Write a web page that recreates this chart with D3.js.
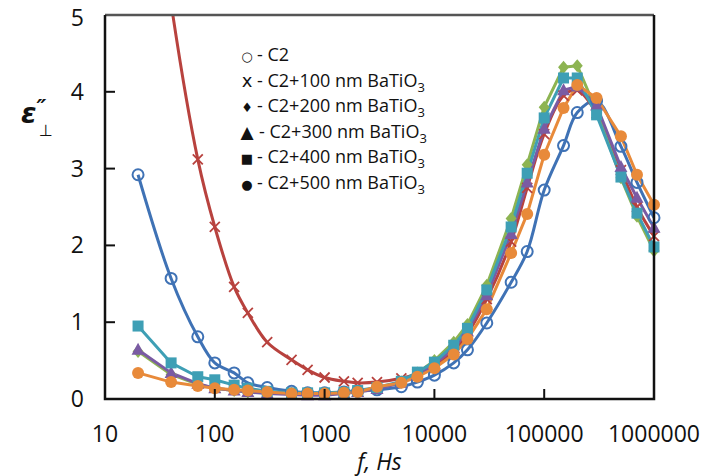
<!DOCTYPE html>
<html>
<head>
<meta charset="utf-8">
<script src="https://cdn.jsdelivr.net/npm/d3@7"></script>
<style>
  html, body { margin: 0; padding: 0; background: #fff; }
  svg { display: block; font-family: "Open Sans", "Liberation Sans", sans-serif; }
</style>
</head>
<body>
<svg id="chart" width="702" height="476"></svg>
<script>
// frequencies, Hz
const freq = [20, 40, 70, 100, 150, 200, 300, 500, 700, 1000, 1500, 2000, 3000, 5000, 7000,
  10000, 15000, 20000, 30000, 50000, 70000, 100000, 150000, 200000, 300000, 500000, 700000, 1000000];

const c2 = [2.92, 1.57, 0.81, 0.47, 0.34, 0.21, 0.15, 0.10, 0.08, 0.08, 0.09, 0.10, 0.12, 0.16, 0.22,
  0.31, 0.47, 0.64, 0.99, 1.52, 1.92, 2.72, 3.30, 3.73, 3.88, 3.29, 2.82, 2.36];
const bt100 = [8.5, 5.15, 3.12, 2.24, 1.46, 1.12, 0.74, 0.51, 0.38, 0.28, 0.23, 0.21, 0.22, 0.27, 0.33,
  0.43, 0.63, 0.85, 1.30, 2.05, 2.75, 3.45, 3.95, 4.02, 3.72, 2.98, 2.50, 2.12];
const bt200 = [0.62, 0.32, 0.19, 0.14, 0.11, 0.09, 0.08, 0.07, 0.07, 0.07, 0.08, 0.10, 0.14, 0.22, 0.34,
  0.50, 0.74, 0.97, 1.48, 2.35, 3.05, 3.80, 4.32, 4.34, 3.75, 2.88, 2.38, 1.93];
const bt300 = [0.64, 0.34, 0.20, 0.14, 0.11, 0.09, 0.07, 0.06, 0.05, 0.05, 0.07, 0.09, 0.13, 0.21, 0.31,
  0.45, 0.66, 0.88, 1.35, 2.15, 2.82, 3.52, 4.02, 4.07, 3.82, 3.02, 2.62, 2.23];
const bt400 = [0.95, 0.47, 0.29, 0.25, 0.18, 0.14, 0.10, 0.08, 0.08, 0.08, 0.09, 0.11, 0.15, 0.23, 0.35,
  0.48, 0.70, 0.92, 1.42, 2.24, 2.94, 3.66, 4.18, 4.18, 3.70, 2.89, 2.42, 1.98];
const bt500 = [0.34, 0.22, 0.17, 0.14, 0.12, 0.11, 0.09, 0.07, 0.07, 0.07, 0.08, 0.09, 0.16, 0.21, 0.29,
  0.40, 0.58, 0.78, 1.17, 1.90, 2.41, 3.18, 3.79, 4.09, 3.92, 3.42, 2.92, 2.53];

const xTicks = [10, 100, 1000, 10000, 100000, 1000000];
const yTicks = [0, 1, 2, 3, 4, 5];

const legendSymbols = ["\u25CB", "x", "\u2666", "\u25B2", "\u25A0", "\u25CF"];
const legendLabels = ["C2", "C2+100 nm BaTiO", "C2+200 nm BaTiO", "C2+300 nm BaTiO", "C2+400 nm BaTiO", "C2+500 nm BaTiO"];

const series = [
  { values: c2, color: "#3f72b5", marker: "circle-open", smooth: true },
  { values: bt100, color: "#b8423e", marker: "x", smooth: true },
  { values: bt200, color: "#8db452", marker: "diamond", smooth: false },
  { values: bt300, color: "#7a5ba3", marker: "triangle", smooth: false },
  { values: bt400, color: "#3e9fb5", marker: "square", smooth: false },
  { values: bt500, color: "#e88a3a", marker: "circle", smooth: false },
];

const svg = d3.select("#chart");
const plot = { left: 105, right: 654, top: 15, bottom: 399 };

const x = d3.scaleLog().domain([10, 1000000]).range([plot.left, plot.right]);
const y = d3.scaleLinear().domain([0, 5]).range([plot.bottom, plot.top]);

svg.append("defs").append("clipPath").attr("id", "clip")
  .append("rect")
  .attr("x", plot.left).attr("y", plot.top)
  .attr("width", plot.right - plot.left).attr("height", plot.bottom - plot.top);

const lineLayer = svg.append("g").attr("clip-path", "url(#clip)");
const markLayer = svg.append("g");

series.forEach((s) => {
  const pts = freq.map((f, i) => [f, s.values[i]]);
  const line = d3.line()
    .x((d) => x(d[0]))
    .y((d) => y(d[1]))
    .curve(s.smooth ? d3.curveCatmullRom.alpha(0.5) : d3.curveLinear);

  lineLayer.append("path")
    .attr("d", line(pts))
    .attr("fill", "none")
    .attr("stroke", s.color)
    .attr("stroke-width", 3)
    .attr("stroke-linejoin", "round");

  // markers outside the value range are not drawn (like Excel)
  const marks = markLayer.append("g").selectAll("g").data(pts.filter((d) => d[1] <= 5)).join("g")
    .attr("transform", (d) => `translate(${x(d[0])},${y(d[1])})`);

  if (s.marker === "circle-open") {
    marks.append("circle").attr("r", 5.5).attr("fill", "none")
      .attr("stroke", s.color).attr("stroke-width", 2);
  } else if (s.marker === "circle") {
    marks.append("circle").attr("r", 6).attr("fill", s.color);
  } else if (s.marker === "square") {
    marks.append("rect").attr("x", -5.5).attr("y", -5.5).attr("width", 11).attr("height", 11)
      .attr("fill", s.color);
  } else if (s.marker === "triangle") {
    marks.append("path").attr("d", "M0,-7L6.5,5L-6.5,5Z").attr("fill", s.color);
  } else if (s.marker === "diamond") {
    marks.append("path").attr("d", "M0,-6.5L5.5,0L0,6.5L-5.5,0Z").attr("fill", s.color);
  } else if (s.marker === "x") {
    marks.append("path").attr("d", "M-5,-5L5,5M-5,5L5,-5")
      .attr("stroke", s.color).attr("stroke-width", 1.8);
  }
});

// frame: top edge a little lighter, like the plot-area border
svg.append("path")
  .attr("d", `M${plot.left},${plot.top}H${plot.right}`)
  .attr("stroke", "#555").attr("stroke-width", 2.5);
svg.append("path")
  .attr("d", `M${plot.right},${plot.top}V${plot.bottom}H${plot.left}V${plot.top}`)
  .attr("fill", "none").attr("stroke", "#111").attr("stroke-width", 2.5);

// inside ticks
svg.append("g").selectAll("line").data(yTicks.slice(1, -1)).join("line")
  .attr("x1", plot.left).attr("x2", plot.left + 10)
  .attr("y1", (d) => y(d)).attr("y2", (d) => y(d))
  .attr("stroke", "#111").attr("stroke-width", 2);

svg.append("g").selectAll("line").data(xTicks.slice(1, -1)).join("line")
  .attr("x1", (d) => x(d)).attr("x2", (d) => x(d))
  .attr("y1", plot.bottom).attr("y2", plot.bottom - 10)
  .attr("stroke", "#111").attr("stroke-width", 2);

// tick labels
svg.append("g").selectAll("text").data(yTicks).join("text")
  .attr("x", 84).attr("y", (d) => Math.max(y(d) + 8, 26))
  .attr("text-anchor", "end")
  .attr("font-size", 23).attr("fill", "#111")
  .text((d) => d);

svg.append("g").selectAll("text").data(xTicks).join("text")
  .attr("x", (d) => x(d)).attr("y", 442)
  .attr("text-anchor", "middle")
  .attr("font-size", 23).attr("fill", "#111")
  .text((d) => d);

// axis titles
svg.append("text")
  .attr("x", (plot.left + plot.right) / 2).attr("y", 470)
  .attr("text-anchor", "middle")
  .attr("font-size", 23).attr("font-style", "italic").attr("fill", "#111")
  .text("f, Hs");

// ε″ with ⊥ subscript, one text element
const yTitle = svg.append("text")
  .attr("x", 21).attr("y", 123)
  .attr("font-size", 28).attr("font-style", "italic").attr("font-weight", "bold")
  .attr("font-family", "'DejaVu Sans', sans-serif").attr("fill", "#111");
yTitle.append("tspan").text("\u03B5");
yTitle.append("tspan").attr("font-size", 22).attr("dy", -8).text("\u2033");
yTitle.append("tspan").attr("x", 39).attr("dy", 21)
  .attr("font-size", 16).attr("font-style", "normal").attr("font-weight", "normal")
  .text("\u22A5");

// legend (text box)
const legend = svg.append("g");
legendLabels.forEach((label, i) => {
  const by = 61 + i * 25.6;
  legend.append("text")
    .attr("x", 247).attr("y", by)
    .attr("text-anchor", "middle")
    .attr("font-family", "'DejaVu Sans', sans-serif")
    .attr("font-size", i === 1 ? 18 : i === 3 ? 17 : 13)
    .attr("fill", "#111")
    .text(legendSymbols[i]);
  const t = legend.append("text")
    .attr("x", i === 3 ? 259 : 257).attr("y", by)
    .attr("font-size", 18).attr("fill", "#111");
  t.append("tspan").text("- " + label);
  if (i > 0) t.append("tspan").attr("font-size", 13).attr("dy", 5).text("3");
});
</script>
</body>
</html>
